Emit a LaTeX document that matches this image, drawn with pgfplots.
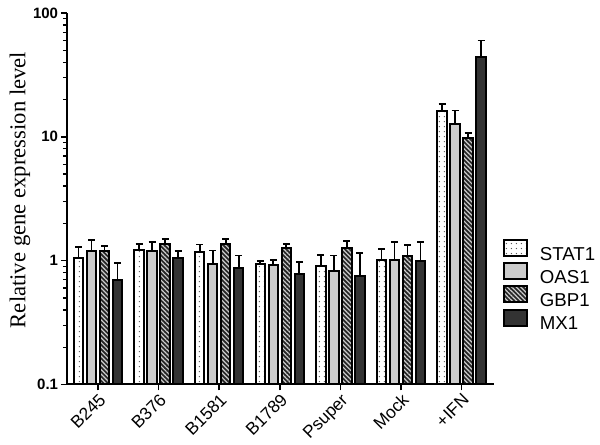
\documentclass[border=0pt]{standalone}
\usepackage{fontspec}
\setmainfont{Liberation Sans}
\newfontfamily\serifont{Liberation Serif}
\usepackage{pgfplots}
\usepackage{pgfplotstable}
\pgfplotsset{compat=1.18}
\usetikzlibrary{patterns,patterns.meta}

\pgfplotstableread{
x S Se O Oe G Ge M Me
0 1.06 0.23 1.19 0.27 1.20 0.11 0.70 0.26
1 1.23 0.13 1.20 0.21 1.37 0.13 1.06 0.14
2 1.17 0.18 0.94 0.27 1.36 0.14 0.88 0.22
3 0.94 0.06 0.92 0.09 1.26 0.10 0.785 0.195
4 0.90 0.21 0.83 0.27 1.26 0.19 0.75 0.40
5 1.02 0.23 1.02 0.40 1.10 0.23 1.00 0.41
6 16.3 2.2 12.7 3.6 9.7 1.1 44.3 15.7
}\data

\begin{document}
\begin{tikzpicture}
\useasboundingbox (0,0) rectangle (450pt,333.75pt);
\begin{axis}[
  at={(50.25pt,45.4pt)}, anchor=south west,
  width=320.25pt, height=278.6pt, scale only axis,
  ybar, bar width=0.155,
  ymode=log, ymin=0.1, ymax=100, log origin=infty,
  xmin=-0.512, xmax=6.535,
  axis lines=left,
  axis line style={-, line width=1.5pt},
  tick align=outside,
  major tick length=4.5pt, minor tick length=3pt,
  every tick/.style={black, line width=1.2pt},
  minor tick style={line width=1pt},
  xtick={0,...,6},
  xticklabels={B245,B376,B1581,B1789,Psuper,Mock,+IFN},
  xticklabel style={rotate=45, anchor=north east, inner sep=1pt, font=\fontsize{13}{15}\selectfont},
  ytick={0.1,1,10,100},
  yticklabels={0.1,1,10,100},
  minor ytick={0.2,0.3,0.4,0.5,0.6,0.7,0.8,0.9,2,3,4,5,6,7,8,9,20,30,40,50,60,70,80,90},
  yticklabel style={font=\fontsize{11.25}{13}\selectfont\bfseries, inner sep=2pt},
  ylabel={\serifont Relative gene expression level},
  ylabel style={font=\fontsize{17}{19}\selectfont, at={(axis description cs:-0.110,0.5235)}, anchor=center},
  clip=false,
  legend style={at={(1.021,0.392)}, anchor=north west, draw=none, fill=none,
    inner sep=0pt, row sep=0pt, column sep=9pt,
    font=\fontsize{14}{16}\selectfont, nodes={inner sep=0pt}},
  legend cell align=left,
  mybar/.style={draw=black, line width=1.5pt,
    legend image code/.code={\draw[##1, line width=1.5pt] (0pt,-1pt) rectangle (17pt,11pt);},
    error bars/y dir=plus, error bars/y explicit,
    error bars/error mark=-,
    error bars/error bar style={black, line width=1.3pt, solid},
    error bars/error mark options={black, rotate=90, mark size=2.6pt, line width=1.3pt}},
]
\addplot[mybar, bar shift=-0.322, fill=white,
  postaction={pattern={Dots[distance=4pt, radius=0.55pt]}, pattern color=black!65}]
  table[x=x, y=S, y error=Se] {\data};
\addplot[mybar, bar shift=-0.107, fill=black!20]
  table[x=x, y=O, y error=Oe] {\data};
\addplot[mybar, bar shift=0.107, fill=black!85,
  postaction={pattern={Lines[angle=-45, distance=2.4pt, line width=0.9pt]}, pattern color=black!20}]
  table[x=x, y=G, y error=Ge] {\data};
\addplot[mybar, bar shift=0.322, fill=black!80]
  table[x=x, y=M, y error=Me] {\data};
\legend{STAT1,OAS1,GBP1,MX1}
\end{axis}
\end{tikzpicture}
\end{document}
